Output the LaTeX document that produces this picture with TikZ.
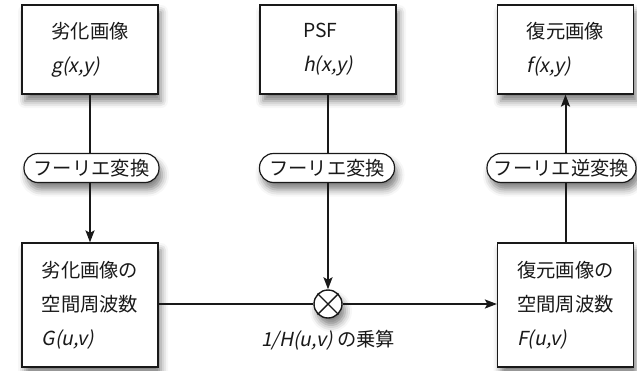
\documentclass[tikz,border=0pt]{standalone}
\usepackage{fontspec}
\setmainfont{Noto Sans CJK JP}
\newfontfamily\slfont{Noto Sans CJK JP}[FakeSlant=0.2]
\usetikzlibrary{arrows.meta,shadows.blur}
\newcommand{\vi}[1]{{\slfont #1}}
\begin{document}
\begin{tikzpicture}[x=1pt,y=-1pt,
  every node/.style={font=\fontsize{19.3}{34}\selectfont, text=black!90},
  shad/.style={blur shadow={shadow xshift=3pt, shadow yshift=-7pt, shadow blur radius=7pt, shadow opacity=50}},
  box/.style={draw=black!90, line width=1.2pt, fill=white, minimum width=136pt, align=left, inner sep=0pt, shad},
  pill/.style={draw=black!90, line width=1.2pt, fill=white, rounded corners=14pt, minimum height=29pt, minimum width=135pt, inner sep=0pt, shad},
  conn/.style={line width=2pt, draw=black!90},
  arr/.style={conn, -{Stealth[length=12pt,width=9pt,inset=2.5pt]}}]
\useasboundingbox (0,0) rectangle (637,370);
\node[box, minimum height=89pt] (g) at (90,49.5) {劣化画像\\\vi{g(x,y)}};
\node[box, minimum height=89pt] (h) at (328,49.5) {PSF\\\vi{h(x,y)}};
\node[box, minimum height=89pt] (f) at (565.5,49.5) {復元画像\\\vi{f(x,y)}};
\node[pill] (ft1) at (91.5,168) {フーリエ変換};
\node[pill] (ft2) at (327,168) {フーリエ変換};
\node[pill, minimum width=149pt] (ift) at (561.5,168) {フーリエ逆変換};
\node[box, minimum height=124pt] (G) at (90,305) {劣化画像の\\空間周波数\\\vi{G(u,v)}};
\node[box, minimum height=124pt] (F) at (565.5,305) {復元画像の\\空間周波数\\\vi{F(u,v)}};
\node[circle, draw=black!90, line width=1.4pt, minimum size=28pt, inner sep=0pt, fill=white, shad] (m) at (328,304) {};
\draw[line width=1.4pt, black!90] (m.45) -- (m.225) (m.135) -- (m.315);
\node (lbl) at (328,340) {\vi{1/H(u,v)} の乗算};
\draw[conn] (g.south) -- (g.south |- ft1.north);
\draw[arr] (g.south |- ft1.south) -- (G.north);
\draw[conn] (h.south) -- (h.south |- ft2.north);
\draw[arr] (h.south |- ft2.south) -- (m.north);
\draw[conn] (G.east |- m.west) -- (m.west);
\draw[arr] (m.east) -- (F.west |- m.east);
\draw[conn] (F.north) -- (F.north |- ift.south);
\draw[arr] (F.north |- ift.north) -- (f.south);
\end{tikzpicture}
\end{document}
